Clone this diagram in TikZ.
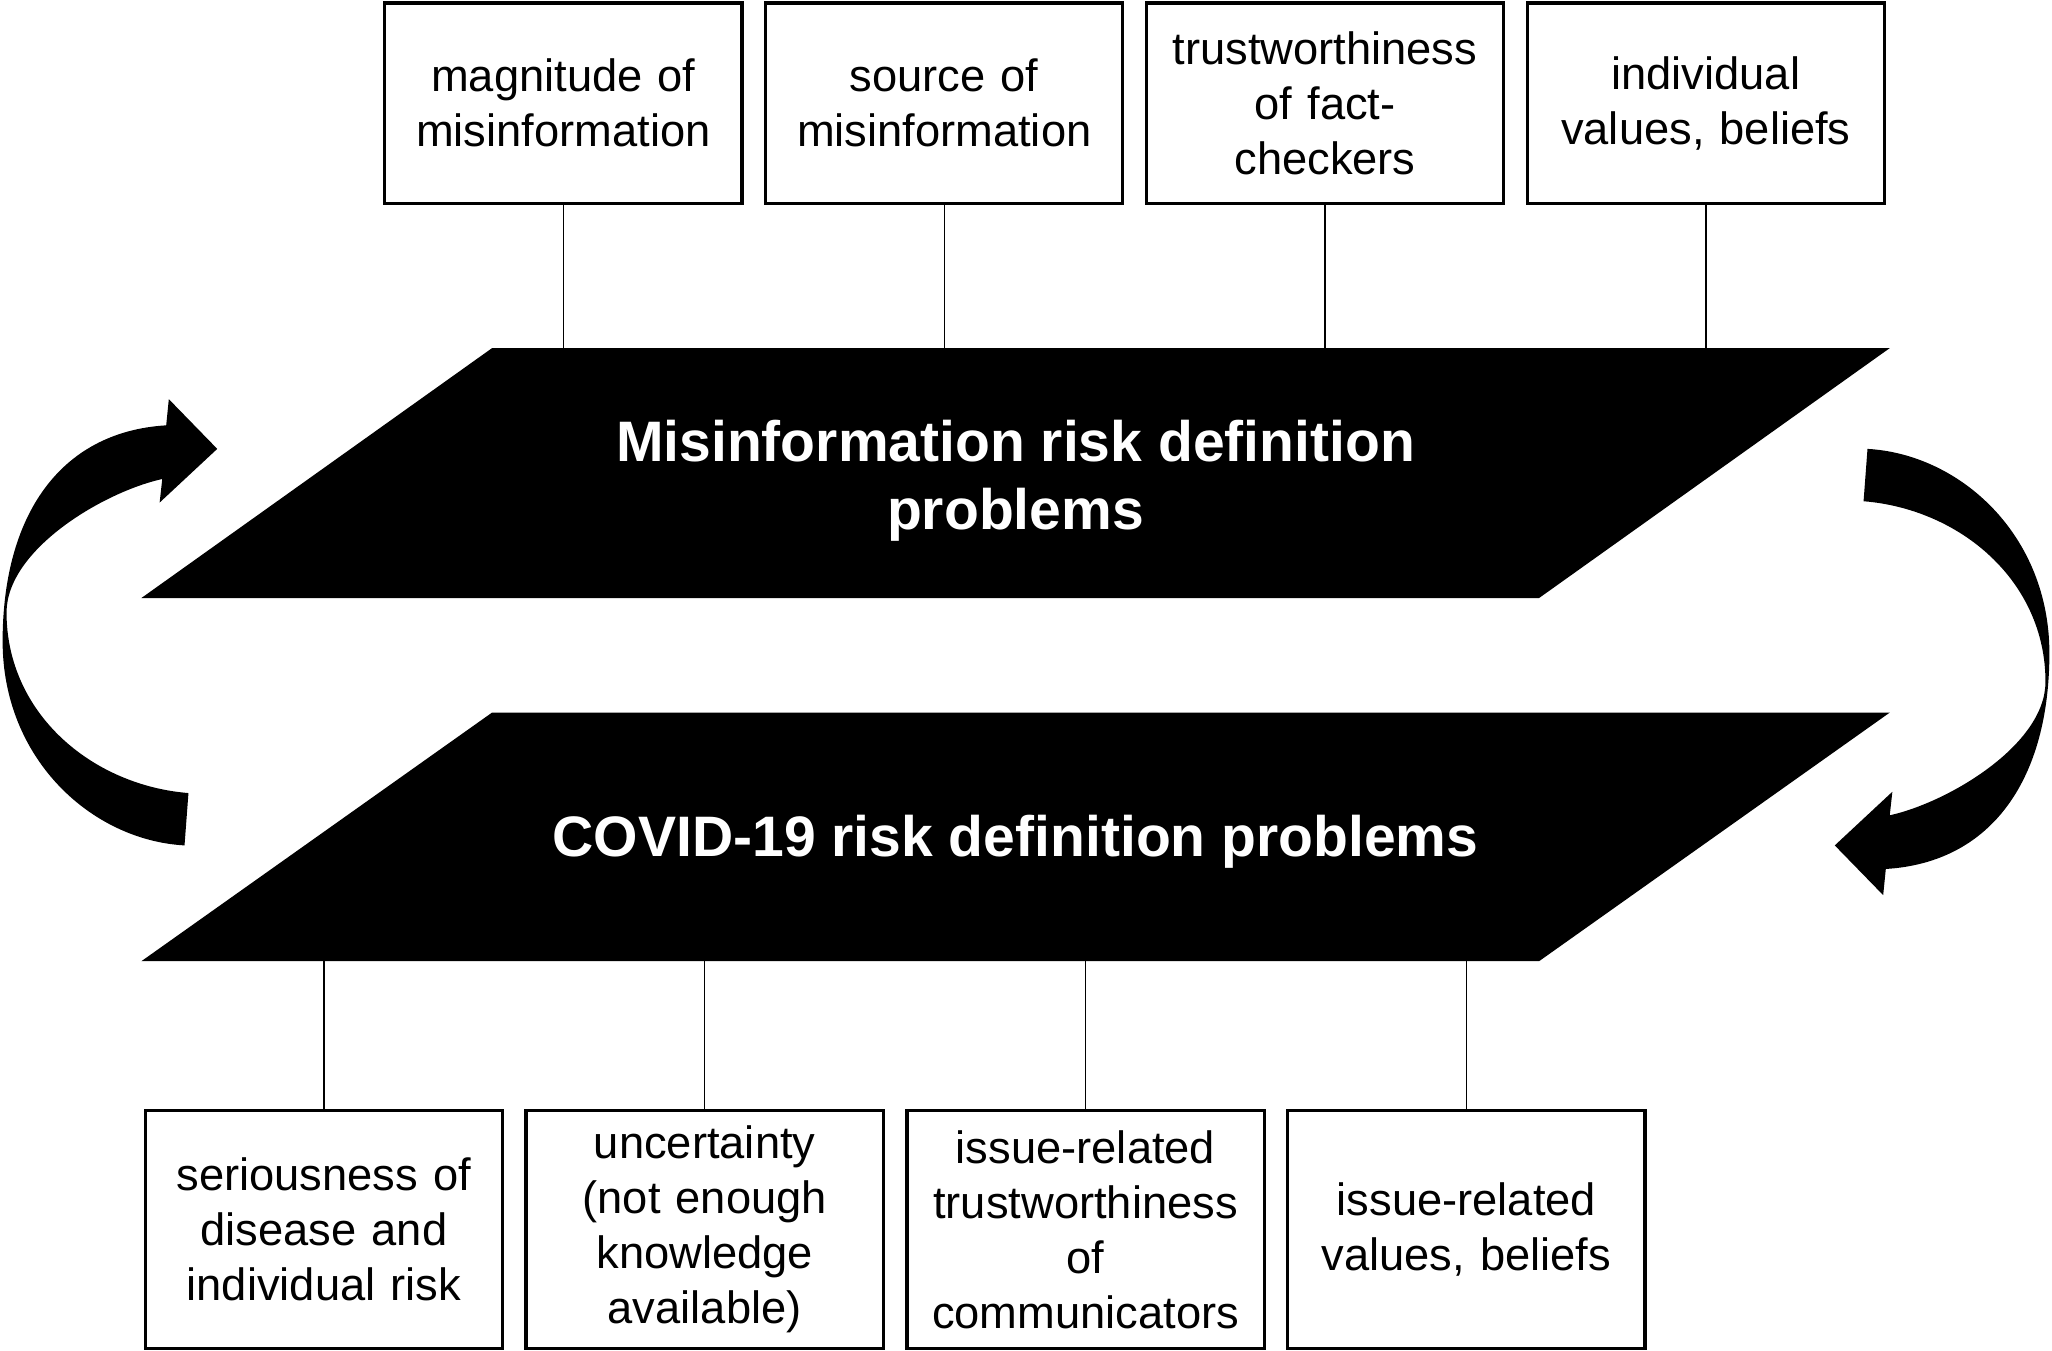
\documentclass[tikz,border=0pt]{standalone}
\usepackage{fontspec}
\setmainfont{Liberation Sans}
\usepackage{tikz}
\usetikzlibrary{positioning}

\tikzset{
	factor/.style={draw,line width=2.5pt,outer sep=0pt,inner sep=0pt,minimum width=273pt,text width=265pt,align=center,font=\fontsize{34.6}{42}\selectfont},
	topfactor/.style={factor,minimum height=153pt},
	botfactor/.style={factor,minimum height=182pt},
	problem/.style={text=white,align=center,font=\fontsize{43.6}{52}\selectfont\bfseries},
	link/.style={line width=1pt}
}

\begin{document}
\begin{tikzpicture}[x=1pt,y=-1pt]
		\useasboundingbox (0,0) rectangle (1568,1031.6);
		\fill[black] (108,457) -- (376,266) -- (1444,266) -- (1176,457) -- cycle;
		\coordinate (misinfo top) at (776,266);
		\node[problem] (misinfo) at (776,367) {Misinformation risk definition\\problems};
		\fill[black] (108,734.5) -- (376,544.5) -- (1444,544.5) -- (1176,734.5) -- cycle;
		\coordinate (covid bottom) at (776,734.5);
		\node[problem] (covid) at (776,643) {COVID-19 risk definition problems};
		\node[topfactor] (magnitude) at (430.5,78.8) {magnitude of\\misinformation};
		\node[topfactor,right=18pt of magnitude] (source) {source of\\misinformation};
		\node[topfactor,right=18pt of source] (checkers) {trustworthiness\\of fact-\\checkers};
		\node[topfactor,right=18pt of checkers] (values) {individual\\values, beliefs};
		\foreach \n in {magnitude,source,checkers,values}
			\draw[link] (\n.south) -- (\n.south |- misinfo top);
		\node[botfactor] (seriousness) at (247.5,939.5) {seriousness of\\disease and\\individual risk};
		\node[botfactor,right=18pt of seriousness] (uncertainty) {uncertainty\\(not enough\\knowledge\\available)};
		\node[botfactor,right=18pt of uncertainty] (communicators) {issue-related\\trustworthiness\\of\\communicators};
		\node[botfactor,right=18pt of communicators] (beliefs) {issue-related\\values, beliefs};
		\foreach \n in {seriousness,uncertainty,communicators,beliefs}
			\draw[link] (\n.north) -- (\n.north |- covid bottom);
		\fill[black] (141,646) .. controls (70,642) and (2,580) .. (2,490)
			.. controls (2,395) and (45,330) .. (127,325)
			-- (129,305) -- (166,343) -- (122,384) -- (124,366)
			.. controls (79,376) and (5,420) .. (5,468)
			.. controls (5,545) and (70,600) .. (144,606) -- cycle;
		\begin{scope}[rotate around={180:(784,494.5)}]
			\fill[black] (141,646) .. controls (70,642) and (2,580) .. (2,490)
				.. controls (2,395) and (45,330) .. (127,325)
				-- (129,305) -- (166,343) -- (122,384) -- (124,366)
				.. controls (79,376) and (5,420) .. (5,468)
				.. controls (5,545) and (70,600) .. (144,606) -- cycle;
		\end{scope}
	\end{tikzpicture}
\end{document}
